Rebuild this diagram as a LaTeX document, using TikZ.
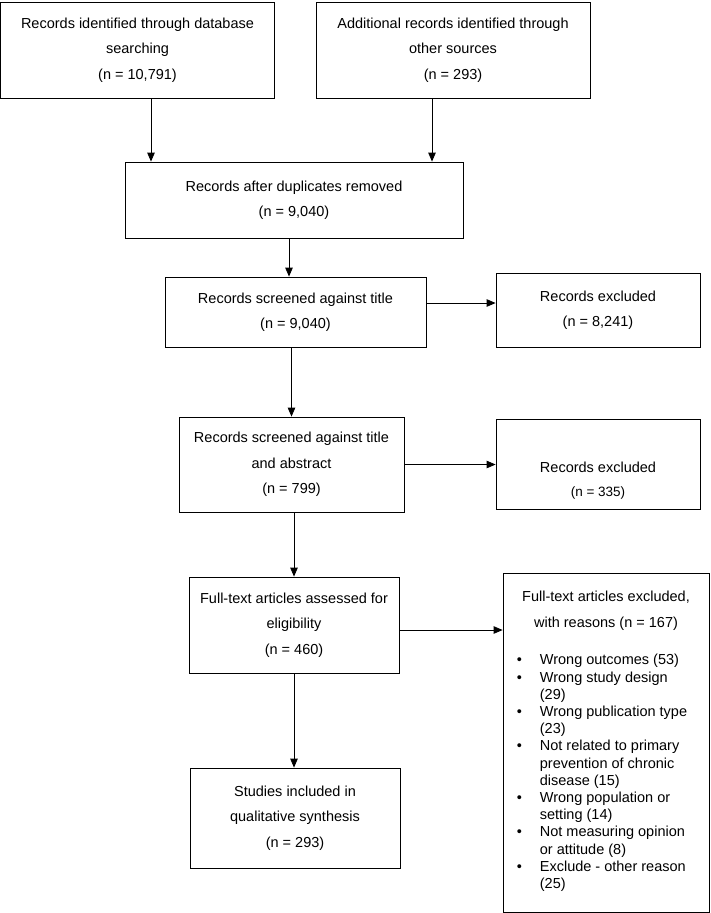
\documentclass[tikz,border=0pt]{standalone}
\usepackage{fontspec}
\setmainfont{Liberation Sans}
\usetikzlibrary{arrows.meta}

\begin{document}
\begin{tikzpicture}[
    x = 1pt, y = -1pt,
    > = {Triangle[length=9pt,width=7.5pt]},
    line width = 0.8pt,
    box/.style={draw, rectangle, align=center, inner sep=0pt,
        font=\fontsize{14.5}{25.5}\selectfont},
    exclbox/.style={box, minimum width=204pt}
]
    \useasboundingbox (0,0) rectangle (710,913);

    % identification
    \node[box, minimum width=274pt, minimum height=96pt] (ident) at (137.5,50)
        {Records identified through database\\searching\\(n = 10,791)};
    \node[box, minimum width=274pt, minimum height=96pt] (other) at (453,50)
        {Additional records identified through\\other sources\\(n = 293)};
    \node[box, minimum width=338pt, minimum height=76pt] (dedup) at (294,200)
        {Records after duplicates removed\\(n = 9,040)};

    % screening
    \node[box, minimum width=261pt, minimum height=70pt] (title) at (295.5,312)
        {Records screened against title\\(n = 9,040)};
    \node[exclbox, minimum height=74pt] (exctitle) at (598,310)
        {Records excluded\\(n = 8,241)};
    \node[box, minimum width=225pt, minimum height=95pt] (abstr) at (291.5,464.5)
        {Records screened against title\\and abstract\\(n = 799)};
    \node[exclbox, minimum height=90pt] (excabstr) at (598,464)
        {\raisebox{-19pt}[0pt][0pt]{\fontsize{14.5}{24}\selectfont
        \begin{tabular}{@{}c@{}}
        Records excluded\\
        {\fontsize{13.5}{24}\selectfont (n = 335)}
        \end{tabular}}};

    % eligibility
    \node[box, minimum width=210pt, minimum height=96pt] (fulltext) at (294,625)
        {Full-text articles assessed for\\eligibility\\(n = 460)};
    \node[box, minimum width=206pt, minimum height=339pt] (excfull) at (606,742.5)
        {Full-text articles excluded,\\with reasons (n = 167)\\[12pt]
        {\fontsize{14.5}{17.2}\selectfont
        \begin{tabular}[t]{@{}p{23pt}@{}l@{\hspace{8pt}}}
        \textbullet & Wrong outcomes (53)\\
        \textbullet & Wrong study design\\
                    & (29)\\
        \textbullet & Wrong publication type\\
                    & (23)\\
        \textbullet & Not related to primary\\
                    & prevention of chronic\\
                    & disease (15)\\
        \textbullet & Wrong population or\\
                    & setting (14)\\
        \textbullet & Not measuring opinion\\
                    & or attitude (8)\\
        \textbullet & Exclude - other reason\\
                    & (25)
        \end{tabular}}};

    % included
    \node[box, minimum width=210pt, minimum height=100pt] (incl) at (295,818)
        {Studies included in\\qualitative synthesis\\(n = 293)};

    \coordinate (a1) at ([xshift=13.5pt]ident.south);
    \coordinate (a2) at ([xshift=-21pt]other.south);
    \coordinate (a3) at ([xshift=-5pt]dedup.south);
    \coordinate (a4) at ([yshift=9pt]title.east);
    \coordinate (a8) at ([yshift=-5pt]fulltext.east);

    \path[->]
        (a1) edge (a1 |- dedup.north)
        (a2) edge (a2 |- dedup.north)
        (a3) edge (a3 |- title.north)
        (a4) edge (a4 -| exctitle.west)
        (abstr.north |- title.south) edge (abstr.north)
        (abstr.east) edge (abstr.east -| excabstr.west)
        (fulltext.north |- abstr.south) edge (fulltext.north)
        (a8) edge (a8 -| excfull.west)
        (fulltext.south) edge (fulltext.south |- incl.north);
\end{tikzpicture}
\end{document}
